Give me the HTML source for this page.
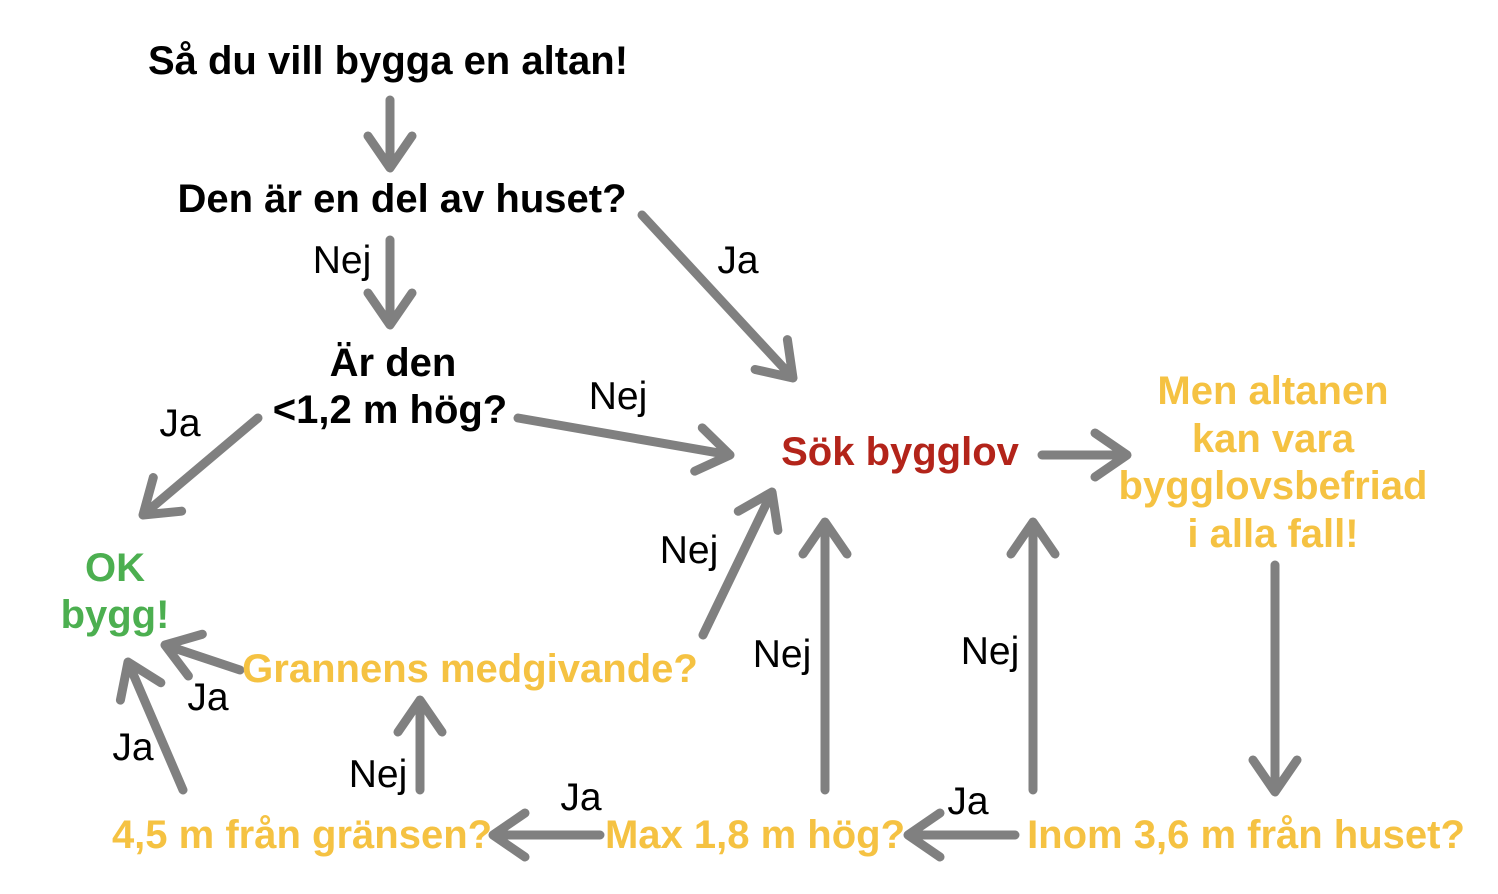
<!DOCTYPE html>
<html><head><meta charset="utf-8"><style>
html,body{margin:0;padding:0;background:#fff;width:1498px;height:894px;overflow:hidden}
text{font-family:"Liberation Sans",Arial,sans-serif}
.b{font-weight:bold;font-size:40px}
.r{font-size:39px;fill:#000}
.y{fill:#f5c242}
</style></head><body>
<svg id="s" width="1498" height="894" xmlns="http://www.w3.org/2000/svg">
<g id="arrows" stroke="#808080" stroke-width="9" fill="none" stroke-linecap="round" stroke-linejoin="round"></g>
<g text-anchor="middle">
<text class="b" x="388" y="74">Så du vill bygga en altan!</text>
<text class="b" x="402" y="212">Den är en del av huset?</text>
<text class="r" x="342" y="273">Nej</text>
<text class="r" x="738" y="273">Ja</text>
<text class="b" x="393" y="376">Är den</text>
<text class="b" x="390" y="423">&lt;1,2 m hög?</text>
<text class="r" x="618" y="409">Nej</text>
<text class="r" x="180" y="436">Ja</text>
<text class="b" x="900" y="465" fill="#b3241a">Sök bygglov</text>
<text class="b y" x="1273" y="404">Men altanen</text>
<text class="b y" x="1273" y="452">kan vara</text>
<text class="b y" x="1273" y="499">bygglovsbefriad</text>
<text class="b y" x="1273" y="547">i alla fall!</text>
<text class="b" x="115" y="581" fill="#4caf50">OK</text>
<text class="b" x="115" y="628" fill="#4caf50">bygg!</text>
<text class="b y" x="470" y="682">Grannens medgivande?</text>
<text class="r" x="689" y="563">Nej</text>
<text class="r" x="782" y="667">Nej</text>
<text class="r" x="990" y="664">Nej</text>
<text class="r" x="208" y="710">Ja</text>
<text class="r" x="133" y="760">Ja</text>
<text class="r" x="378" y="787">Nej</text>
<text class="r" x="581" y="810">Ja</text>
<text class="r" x="968" y="814">Ja</text>
<text class="b y" x="302" y="848">4,5 m från gränsen?</text>
<text class="b y" x="755" y="848">Max 1,8 m hög?</text>
<text class="b y" x="1246" y="848">Inom 3,6 m från huset?</text>
</g>
</svg>
<script>
var A=[[390,100,390,168],[390,240,390,325],[642,215,793,378],[518,418,730,455],[258,418,143,515],
[1042,455,1127,455],[1275,565,1275,792],[1033,790,1033,522],[825,790,825,522],[703,635,772,492],
[1015,835,908,835],[600,835,493,835],[420,790,420,700],[240,670,165,645],[183,790,128,662]];
var g=document.getElementById('arrows'),d='';
A.forEach(function(a){var dx=a[2]-a[0],dy=a[3]-a[1],L=Math.hypot(dx,dy),ux=dx/L,uy=dy/L,h=32,w=22;
var bx=a[2]-ux*h,by=a[3]-uy*h;
d+='M'+a[0]+' '+a[1]+'L'+(a[2]-ux*3)+' '+(a[3]-uy*3)+'M'+(bx-uy*w)+' '+(by+ux*w)+'L'+a[2]+' '+a[3]+'L'+(bx+uy*w)+' '+(by-ux*w);});
var p=document.createElementNS('http://www.w3.org/2000/svg','path');p.setAttribute('d',d);g.appendChild(p);
</script>
</body></html>
